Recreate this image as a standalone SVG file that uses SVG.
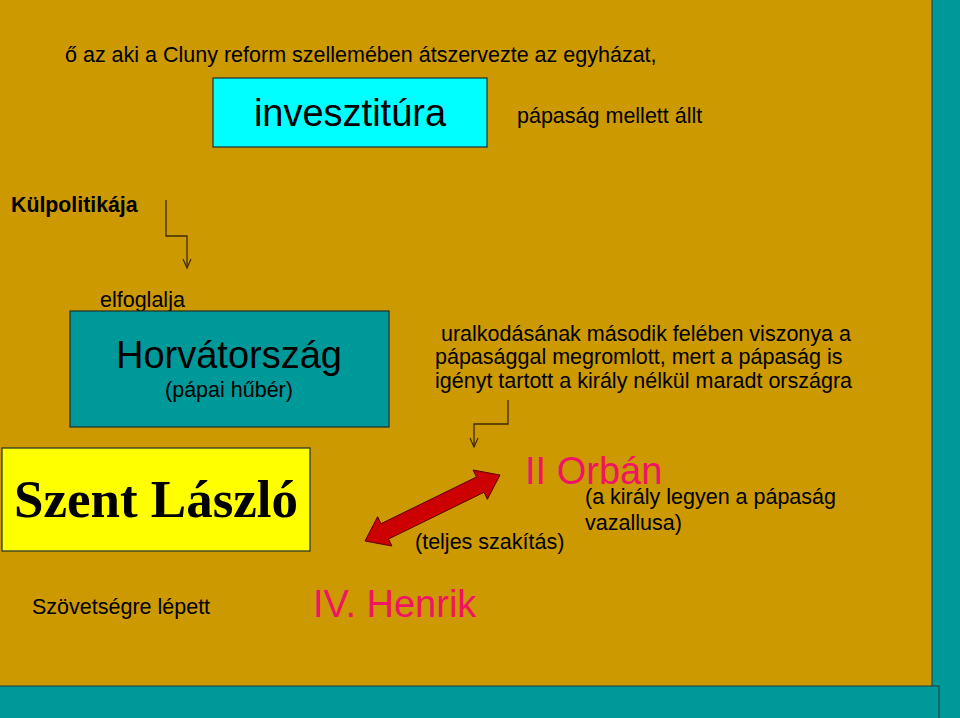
<svg xmlns="http://www.w3.org/2000/svg" width="960" height="718" viewBox="0 0 960 718">
<style>
  .t { font-family: "Liberation Sans", Arial, sans-serif; fill: #000; }
  .s { font-size: 21.5px; }
  .big { font-size: 38px; }
  .pink { fill: #F01464; }
  .box { stroke: #1f2f2f; stroke-width: 1.2; }
  .conn { fill: none; stroke: #3d2a05; stroke-width: 1.3; }
</style>
<defs>
  <marker id="open" markerWidth="12" markerHeight="10" refX="10" refY="5" orient="auto" markerUnits="userSpaceOnUse" viewBox="0 0 12 10">
    <path d="M1,1 L10,5 L1,9" fill="none" stroke="#3d2a05" stroke-width="1.2"/>
  </marker>
</defs>
<rect x="0" y="0" width="960" height="718" fill="#CC9900"/>
<rect x="932" y="-2" width="30" height="722" fill="#009999" stroke="#1f3f3f" stroke-width="1"/>
<rect x="-2" y="686" width="941" height="34" fill="#009999" stroke="#1f3f3f" stroke-width="1"/>

<g id="connectors">
  <path class="conn" d="M166,200 L166,236 L187,236 L187,268" marker-end="url(#open)"/>
  <path class="conn" d="M508,400 L508,424 L474,424 L474,447" marker-end="url(#open)"/>
  <polygon id="double-arrow" points="365,541 377.6,516.7 381.0,523.7 476.5,477.0 473.1,470.0 500,475 487.4,499.3 484.0,492.3 388.5,539.0 391.9,546.0" fill="#CC0000" stroke="#5a0000" stroke-width="1"/>
</g>

<g id="intro">
  <text class="t s" x="65" y="62">ő az aki a Cluny reform szellemében átszervezte az egyházat,</text>
</g>
<g id="invesztitura">
  <rect class="box" x="213" y="78" width="274" height="69" fill="#00FFFF"/>
  <text class="t big" x="350" y="126" text-anchor="middle">invesztitúra</text>
</g>
<g id="papasag">
  <text class="t s" x="517" y="123">pápaság mellett állt</text>
</g>
<g id="kulpolitika">
  <text class="t" x="11" y="212" font-size="21.3" font-weight="bold">Külpolitikája</text>
</g>
<g id="elfoglalja">
  <text class="t s" x="100" y="307">elfoglalja</text>
</g>
<g id="horvatorszag">
  <rect class="box" x="70" y="311" width="319" height="116" fill="#009999"/>
  <text class="t big" x="229" y="368" text-anchor="middle">Horvátország</text>
  <text class="t s" x="229" y="397" text-anchor="middle">(pápai hűbér)</text>
</g>
<g id="uralkodas">
  <text class="t s" x="441" y="341">uralkodásának második felében viszonya a</text>
  <text class="t s" x="435" y="364">pápasággal megromlott, mert a pápaság is</text>
  <text class="t s" x="435" y="388">igényt tartott a király nélkül maradt országra</text>
</g>
<g id="szent-laszlo">
  <rect class="box" x="2" y="448" width="308" height="103" fill="#FFFF00"/>
  <text x="156" y="517" text-anchor="middle" font-family="'Liberation Serif', 'Times New Roman', serif" font-weight="bold" font-size="53" fill="#000">Szent László</text>
</g>
<g id="orban">
  <text class="t big pink" x="525" y="484">II Orbán</text>
  <text class="t s" x="585" y="504">(a király legyen a pápaság</text>
  <text class="t s" x="585" y="530">vazallusa)</text>
</g>
<g id="szakitas">
  <text class="t s" x="415" y="549">(teljes szakítás)</text>
</g>
<g id="szovetseg">
  <text class="t s" x="32" y="614">Szövetségre lépett</text>
</g>
<g id="henrik">
  <text class="t big pink" x="313" y="617">IV. Henrik</text>
</g>
</svg>
